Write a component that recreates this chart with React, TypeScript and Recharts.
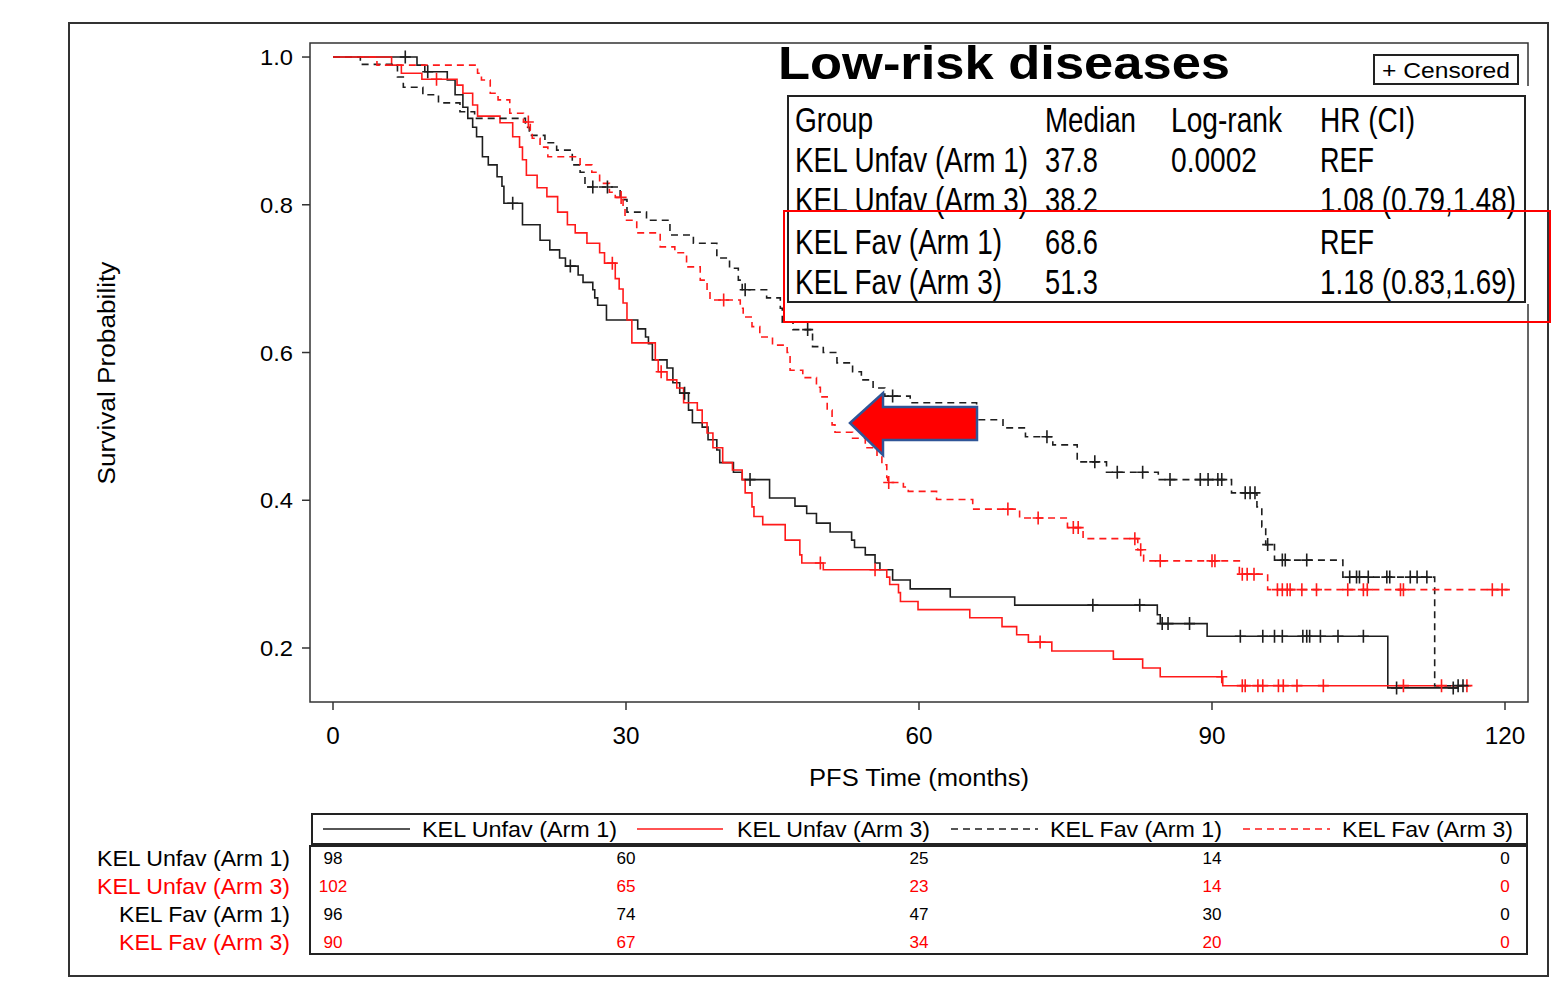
import React from "react";
import { ComposedChart, Line, Scatter, XAxis, YAxis } from "recharts";

type Step = [number, number];

// Kaplan-Meier steps: [month, survival after the drop]
const unfavArm1Steps: Step[] = [
  [0, 1.0], [8.6, 0.989], [9.4, 0.98], [11.7, 0.969], [12.5, 0.949], [13.3, 0.932], [13.8, 0.917],
  [14.3, 0.905], [14.7, 0.892], [15.3, 0.865], [15.9, 0.854], [16.8, 0.838], [17.3, 0.825], [17.5, 0.802],
  [19.4, 0.773], [21.2, 0.752], [22.2, 0.739], [23.2, 0.728], [23.8, 0.717], [25.1, 0.705], [25.6, 0.695],
  [26.6, 0.685], [26.8, 0.674], [27.1, 0.664], [28.0, 0.644], [31.2, 0.632], [32.0, 0.621], [32.3, 0.612],
  [32.7, 0.59], [34.2, 0.579], [34.8, 0.559], [35.5, 0.545], [36.4, 0.522], [36.8, 0.505], [37.8, 0.499],
  [38.4, 0.482], [39.3, 0.468], [39.6, 0.451], [41.0, 0.438], [41.9, 0.428], [44.7, 0.403], [47.3, 0.392],
  [48.5, 0.382], [49.5, 0.369], [50.9, 0.357], [53.1, 0.346], [53.4, 0.336], [54.5, 0.326], [55.5, 0.315],
  [56.0, 0.306], [57.3, 0.292], [59.1, 0.28], [63.2, 0.269], [69.8, 0.258], [84.4, 0.245], [84.7, 0.233],
  [89.5, 0.216], [108.0, 0.146], [115.2, 0.146],
];
const unfavArm1Censored = [7.4, 9.7, 18.4, 24.3, 36.0, 42.7, 77.8, 82.6, 84.9, 85.5, 87.7, 92.9, 95.2, 96.4, 97.2, 99.3, 99.7, 100.0, 101.1, 102.9, 105.5, 108.9, 114.7];

const unfavArm3Steps: Step[] = [
  [0, 1.0], [6.0, 0.989], [7.0, 0.978], [9.1, 0.97], [12.7, 0.962], [13.3, 0.951], [14.3, 0.935],
  [14.8, 0.92], [17.1, 0.911], [18.4, 0.892], [19.1, 0.878], [19.4, 0.861], [19.8, 0.84], [20.9, 0.823],
  [21.9, 0.811], [23.0, 0.79], [24.0, 0.773], [24.8, 0.762], [26.0, 0.748], [27.3, 0.735], [27.8, 0.721],
  [28.9, 0.7], [29.3, 0.686], [29.7, 0.667], [30.1, 0.644], [30.6, 0.613], [33.0, 0.59], [33.3, 0.574],
  [34.2, 0.563], [35.2, 0.552], [35.9, 0.532], [37.3, 0.522], [37.8, 0.505], [38.3, 0.491], [38.9, 0.471],
  [39.9, 0.451], [40.9, 0.441], [41.9, 0.428], [42.2, 0.41], [42.9, 0.391], [43.1, 0.378], [44.0, 0.367],
  [46.3, 0.346], [47.8, 0.326], [48.0, 0.315], [50.2, 0.306], [56.7, 0.296], [57.0, 0.286], [57.9, 0.275],
  [58.1, 0.263], [59.9, 0.252], [65.2, 0.241], [68.5, 0.229], [70.0, 0.218], [71.2, 0.208], [73.6, 0.196],
  [79.9, 0.185], [82.9, 0.173], [84.7, 0.161], [91.1, 0.149], [116.5, 0.149],
];
const unfavArm3Censored = [10.6, 28.6, 33.6, 49.9, 55.5, 72.4, 91.0, 93.1, 93.4, 94.7, 95.2, 96.8, 97.3, 98.7, 101.4, 109.6, 113.5, 116.1];

const favArm1Steps: Step[] = [
  [0, 1.0], [2.8, 0.99], [6.6, 0.973], [7.2, 0.959], [9.2, 0.949], [10.8, 0.938], [13.0, 0.926],
  [14.5, 0.917], [19.7, 0.905], [20.1, 0.894], [21.7, 0.884], [22.9, 0.874], [24.5, 0.854], [25.3, 0.844],
  [25.8, 0.824], [29.4, 0.807], [30.1, 0.79], [32.1, 0.779], [34.5, 0.759], [36.9, 0.748], [39.3, 0.728],
  [40.6, 0.714], [41.5, 0.698], [41.9, 0.685], [44.4, 0.674], [45.8, 0.66], [46.0, 0.641], [47.1, 0.631],
  [49.1, 0.608], [50.2, 0.6], [51.6, 0.586], [53.2, 0.574], [54.1, 0.563], [55.3, 0.552], [56.5, 0.541],
  [59.1, 0.532], [65.9, 0.509], [68.6, 0.498], [70.9, 0.486], [73.7, 0.475], [76.2, 0.452], [79.2, 0.438],
  [84.5, 0.428], [92.0, 0.41], [94.6, 0.391], [95.1, 0.364], [95.5, 0.34], [96.4, 0.319], [103.4, 0.296],
  [112.8, 0.149], [116.3, 0.149],
];
const favArm1Censored = [26.6, 28.1, 42.2, 48.6, 57.3, 73.1, 78.0, 80.3, 82.9, 85.7, 88.8, 89.6, 90.6, 91.0, 93.4, 93.9, 94.4, 95.7, 97.2, 97.5, 99.7, 104.1, 104.8, 105.1, 106.0, 107.9, 108.2, 110.3, 111.0, 112.0, 115.2, 115.7];

const favArm3Steps: Step[] = [
  [0, 1.0], [4.5, 0.989], [14.8, 0.978], [15.2, 0.969], [16.1, 0.951], [16.9, 0.942], [18.1, 0.924],
  [19.5, 0.912], [20.2, 0.901], [20.4, 0.89], [21.2, 0.878], [22.0, 0.865], [25.3, 0.854], [26.5, 0.844],
  [27.3, 0.829], [28.3, 0.817], [28.9, 0.81], [29.7, 0.796], [29.9, 0.779], [31.1, 0.762], [33.5, 0.743],
  [35.0, 0.735], [36.2, 0.716], [37.6, 0.698], [38.3, 0.682], [38.6, 0.671], [41.7, 0.66], [42.0, 0.648],
  [42.9, 0.635], [43.7, 0.621], [45.0, 0.61], [46.5, 0.6], [46.8, 0.576], [48.1, 0.566], [49.5, 0.553],
  [49.9, 0.54], [50.6, 0.522], [51.1, 0.502], [51.4, 0.492], [53.2, 0.484], [54.5, 0.471], [55.7, 0.459],
  [56.2, 0.448], [56.7, 0.431], [56.8, 0.424], [58.4, 0.418], [58.9, 0.412], [61.8, 0.401], [65.5, 0.388],
  [70.3, 0.376], [75.2, 0.363], [76.8, 0.348], [82.4, 0.333], [83.0, 0.318], [92.8, 0.3], [95.7, 0.279],
  [120.5, 0.279],
];
const favArm3Censored = [20.0, 29.5, 40.0, 56.9, 69.1, 72.2, 75.8, 76.3, 82.1, 82.7, 84.7, 90.0, 90.3, 93.1, 93.6, 94.3, 96.7, 97.2, 97.7, 98.0, 99.2, 100.7, 103.9, 105.5, 105.9, 109.3, 109.6, 118.7, 119.7];

const groupNames = ["KEL Unfav (Arm 1)", "KEL Unfav (Arm 3)", "KEL Fav (Arm 1)", "KEL Fav (Arm 3)"];
const xTicks = [0, 30, 60, 90, 120];
const yTicks = [0.2, 0.4, 0.6, 0.8, 1.0];
const atRiskUnfav1 = [98, 60, 25, 14, 0];
const atRiskUnfav3 = [102, 65, 23, 14, 0];
const atRiskFav1 = [96, 74, 47, 30, 0];
const atRiskFav3 = [90, 67, 34, 20, 0];
const summaryHeader = ["Group", "Median", "Log-rank", "HR (CI)"];
const summaryMedians = ["37.8", "38.2", "68.6", "51.3"];
const summaryLogRank = ["0.0002", "", "", ""];
const summaryHr = ["REF", "1.08 (0.79,1.48)", "REF", "1.18 (0.83,1.69)"];

const BLACK = "#1e1e1e";
const RED = "#ff1a1a";
const FONT = "'Liberation Sans', Arial, Helvetica, sans-serif";
const NARROW = "'Liberation Sans Narrow', 'Arial Narrow', 'Liberation Sans', Arial, sans-serif";

const series = [
  { name: groupNames[0], steps: unfavArm1Steps, censored: unfavArm1Censored, color: BLACK, dash: undefined as string | undefined, atRisk: atRiskUnfav1 },
  { name: groupNames[1], steps: unfavArm3Steps, censored: unfavArm3Censored, color: RED, dash: undefined, atRisk: atRiskUnfav3 },
  { name: groupNames[2], steps: favArm1Steps, censored: favArm1Censored, color: BLACK, dash: "7 5", atRisk: atRiskFav1 },
  { name: groupNames[3], steps: favArm3Steps, censored: favArm3Censored, color: RED, dash: "7 5", atRisk: atRiskFav3 },
];

function survAt(steps: Step[], t: number) {
  let s = steps[0][1];
  for (const [st, sv] of steps) if (st <= t) s = sv;
  return s;
}

// page x of a month value, for the at-risk table under the axis
const monthX = (t: number) => 333 + t * (1172 / 120);

function Txt(props: any) {
  const { x, y, w, size, anchor = "start", fill = "#000", weight, family = FONT, children } = props;
  return (
    <text x={x} y={y} fontSize={size} textAnchor={anchor} fill={fill} fontWeight={weight}
      textLength={w} lengthAdjust="spacingAndGlyphs" fontFamily={family}>
      {children}
    </text>
  );
}

const plusShape = (color: string) => (p: any) => (
  <path d={`M${p.cx - 5.5},${p.cy}H${p.cx + 5.5}M${p.cx},${p.cy - 6.5}V${p.cy + 6.5}`} stroke={color} strokeWidth={1.6} fill="none" />
);

const YTick = (p: any) => (
  <Txt x={p.x} y={p.y + 8} w={33} size={22} anchor="end">{Number(p.payload.value).toFixed(1)}</Txt>
);
const XTick = (p: any) => {
  const v = String(p.payload.value);
  return <Txt x={p.x} y={744} w={v.length * 13.5} size={24} anchor="middle">{v}</Txt>;
};

function Overlay() {
  const legendItems = [
    { x0: 323, x1: 410, tx: 422, w: 195 },
    { x0: 637, x1: 723, tx: 737, w: 193 },
    { x0: 951, x1: 1038, tx: 1050, w: 172 },
    { x0: 1243, x1: 1330, tx: 1342, w: 171 },
  ];
  const rowBase = [132, 172, 212, 254, 294];
  const groupW = [233, 233, 207, 207];
  const hrW = [54, 196, 54, 196];
  return (
    <svg width={1556} height={990} style={{ position: "absolute", left: 0, top: 0, pointerEvents: "none" }}>
      {/* outer frame */}
      <rect x={69} y={23} width={1479} height={953} fill="none" stroke="#333" strokeWidth={2} />
      {/* plot frame */}
      <rect x={310} y={43} width={1218} height={659} fill="none" stroke="#333" strokeWidth={1.5} />

      <Txt x={778} y={79} w={452} size={46} weight="bold">Low-risk diseases</Txt>

      <rect x={1374} y={55} width={144} height={29} fill="#fff" stroke="#222" strokeWidth={2} />
      <Txt x={1382} y={78} w={128} size={22}>+ Censored</Txt>

      {/* inset summary */}
      <rect x={785} y={86} width={748} height={218} fill="#fff" />
      <rect x={788} y={96} width={737} height={206} fill="none" stroke="#222" strokeWidth={2} />
      <Txt x={795} y={rowBase[0]} w={78} size={35} family={NARROW}>{summaryHeader[0]}</Txt>
      <Txt x={1045} y={rowBase[0]} w={91} size={35} family={NARROW}>{summaryHeader[1]}</Txt>
      <Txt x={1171} y={rowBase[0]} w={111} size={35} family={NARROW}>{summaryHeader[2]}</Txt>
      <Txt x={1320} y={rowBase[0]} w={95} size={35} family={NARROW}>{summaryHeader[3]}</Txt>
      {groupNames.map((g, i) => (
        <g key={g}>
          <Txt x={795} y={rowBase[i + 1]} w={groupW[i]} size={35} family={NARROW}>{g}</Txt>
          <Txt x={1045} y={rowBase[i + 1]} w={53} size={35} family={NARROW}>{summaryMedians[i]}</Txt>
          {summaryLogRank[i] && <Txt x={1171} y={rowBase[i + 1]} w={86} size={35} family={NARROW}>{summaryLogRank[i]}</Txt>}
          <Txt x={1320} y={rowBase[i + 1]} w={hrW[i]} size={35} family={NARROW}>{summaryHr[i]}</Txt>
        </g>
      ))}
      <rect x={784} y={211} width={766} height={111} fill="none" stroke="#ff0000" strokeWidth={2} />

      {/* arrow */}
      <polygon points="850,423 883,393 883,407 977,407 977,440 883,440 883,455" fill="#ff0000" stroke="#2f5597" strokeWidth={2.5} strokeLinejoin="miter" />

      {/* axis titles */}
      <g transform="translate(115,373) rotate(-90)">
        <Txt x={0} y={0} w={223} size={23} anchor="middle">Survival Probability</Txt>
      </g>
      <Txt x={919} y={786} w={220} size={23} anchor="middle">PFS Time (months)</Txt>

      {/* legend */}
      <rect x={312} y={814} width={1215} height={30} fill="none" stroke="#222" strokeWidth={2} />
      {series.map((s, i) => (
        <g key={s.name}>
          <line x1={legendItems[i].x0} x2={legendItems[i].x1} y1={829} y2={829} stroke={s.color} strokeWidth={1.6} strokeDasharray={s.dash} />
          <Txt x={legendItems[i].tx} y={837} w={legendItems[i].w} size={22}>{s.name}</Txt>
        </g>
      ))}

      {/* number at risk */}
      <rect x={310} y={846} width={1217} height={108} fill="none" stroke="#222" strokeWidth={2} />
      {series.map((s, i) => {
        const y = 858 + i * 28;
        const fill = s.color === RED ? "#ff0000" : "#000";
        return (
          <g key={s.name}>
            <Txt x={290} y={y + 8} w={s.name.includes("Unfav") ? 193 : 171} size={22} anchor="end" fill={fill}>{s.name}</Txt>
            {s.atRisk.map((n, j) => (
              <Txt key={j} x={monthX(xTicks[j])} y={y + 6} w={String(n).length * 9.5} size={16} anchor="middle" fill={fill}>{n}</Txt>
            ))}
          </g>
        );
      })}
    </svg>
  );
}

export default function App() {
  return (
    <div style={{ position: "absolute", left: 0, top: 0, width: 1556, height: 990, background: "#fff" }}>
      <ComposedChart width={1556} height={990} margin={{ top: 43, right: 28, left: 250, bottom: 248 }}>
        <XAxis dataKey="t" type="number" domain={[-2.355, 122.355]} ticks={xTicks} allowDataOverflow
          height={40} axisLine={false} tickLine={{ stroke: "#333", strokeWidth: 1.5 }} tickSize={8} tick={XTick} />
        <YAxis dataKey="s" type="number" domain={[0.1269, 1.019]} ticks={yTicks} allowDataOverflow
          width={60} axisLine={false} tickLine={{ stroke: "#333", strokeWidth: 1.5 }} tickSize={8} tickMargin={9} tick={YTick} />
        {series.map((s) => (
          <Line key={s.name} data={s.steps.map(([t, v]) => ({ t, s: v }))} dataKey="s" type="stepAfter"
            stroke={s.color} strokeWidth={1.6} strokeDasharray={s.dash} dot={false} activeDot={false}
            isAnimationActive={false} />
        ))}
        {series.map((s) => (
          <Scatter key={s.name + "-c"} data={s.censored.map((t) => ({ t, s: survAt(s.steps, t) }))} dataKey="s"
            shape={plusShape(s.color)} isAnimationActive={false} />
        ))}
      </ComposedChart>
      <Overlay />
    </div>
  );
}
